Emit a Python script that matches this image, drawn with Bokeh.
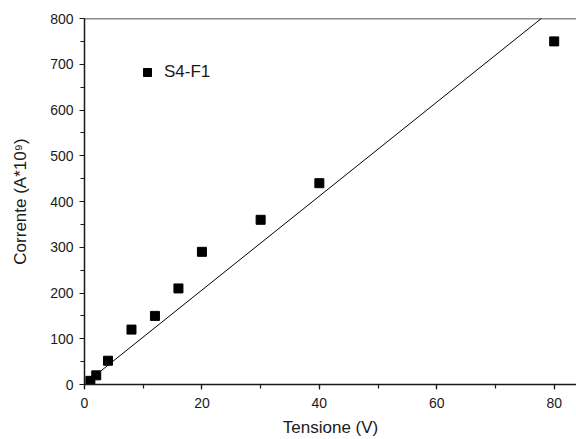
from bokeh.plotting import figure
from bokeh.models import Range1d, Span, Legend, LegendItem, SingleIntervalTicker
from bokeh.embed import file_html
from bokeh.resources import INLINE

# Data
tensione = [1, 2, 4, 8, 12, 16, 20, 30, 40, 80]
corrente = [8, 20, 52, 120, 150, 210, 290, 360, 440, 750]
series_name = "S4-F1"
fit_slope = 10.27
fit_intercept = 1.0

FONT = "Liberation Sans"
INK = "#1a1a1a"

p = figure(width=576, height=439, output_backend="svg", toolbar_location=None,
           x_range=Range1d(0, 83.8), y_range=Range1d(0, 800),
           min_border_left=84, min_border_right=0, min_border_top=18, min_border_bottom=55)
p.outline_line_color = None
p.xgrid.visible = False
p.ygrid.visible = False
p.background_fill_color = "white"
p.border_fill_color = "white"

# fit line over the data range
fx = [min(tensione), max(tensione)]
fy = [fit_slope * v + fit_intercept for v in fx]
p.line(fx, fy, line_color="black", line_width=1)

r = p.scatter(tensione, corrente, marker="square", size=9, fill_color="black", line_color="black")

p.add_layout(Span(location=800, dimension="width", line_color=INK, line_width=1.5))

for ax in (p.xaxis[0], p.yaxis[0]):
    ax.axis_line_color = INK
    ax.axis_line_width = 1.5
    ax.major_tick_line_color = INK
    ax.minor_tick_line_color = INK
    ax.major_tick_line_width = 1.2
    ax.minor_tick_line_width = 1.2
    ax.major_tick_out = 5
    ax.major_tick_in = 0
    ax.minor_tick_out = 4
    ax.minor_tick_in = 0
    ax.major_label_text_font = FONT
    ax.major_label_text_font_size = "14px"
    ax.major_label_text_color = INK
    ax.axis_label_text_font = FONT
    ax.axis_label_text_font_size = "17px"
    ax.axis_label_text_font_style = "normal"
    ax.axis_label_text_color = INK

p.xaxis[0].ticker = SingleIntervalTicker(interval=20, num_minor_ticks=2)
p.yaxis[0].ticker = SingleIntervalTicker(interval=100, num_minor_ticks=2)
p.xaxis.axis_label = "Tensione (V)"
p.yaxis.axis_label = "Corrente (A*10\u2079)"
p.xaxis.major_label_standoff = 8
p.yaxis.major_label_standoff = 6
p.xaxis.axis_label_standoff = 7
p.yaxis.axis_label_standoff = 17

legend = Legend(items=[LegendItem(label=series_name, renderers=[r])],
                location=(53, 302), padding=0, margin=0, label_standoff=7,
                border_line_color=None, background_fill_alpha=0,
                label_text_font=FONT, label_text_font_size="17px", label_text_color=INK,
                glyph_width=20, glyph_height=20)
p.add_layout(legend)

open("out.html", "w").write(file_html(p, INLINE))
